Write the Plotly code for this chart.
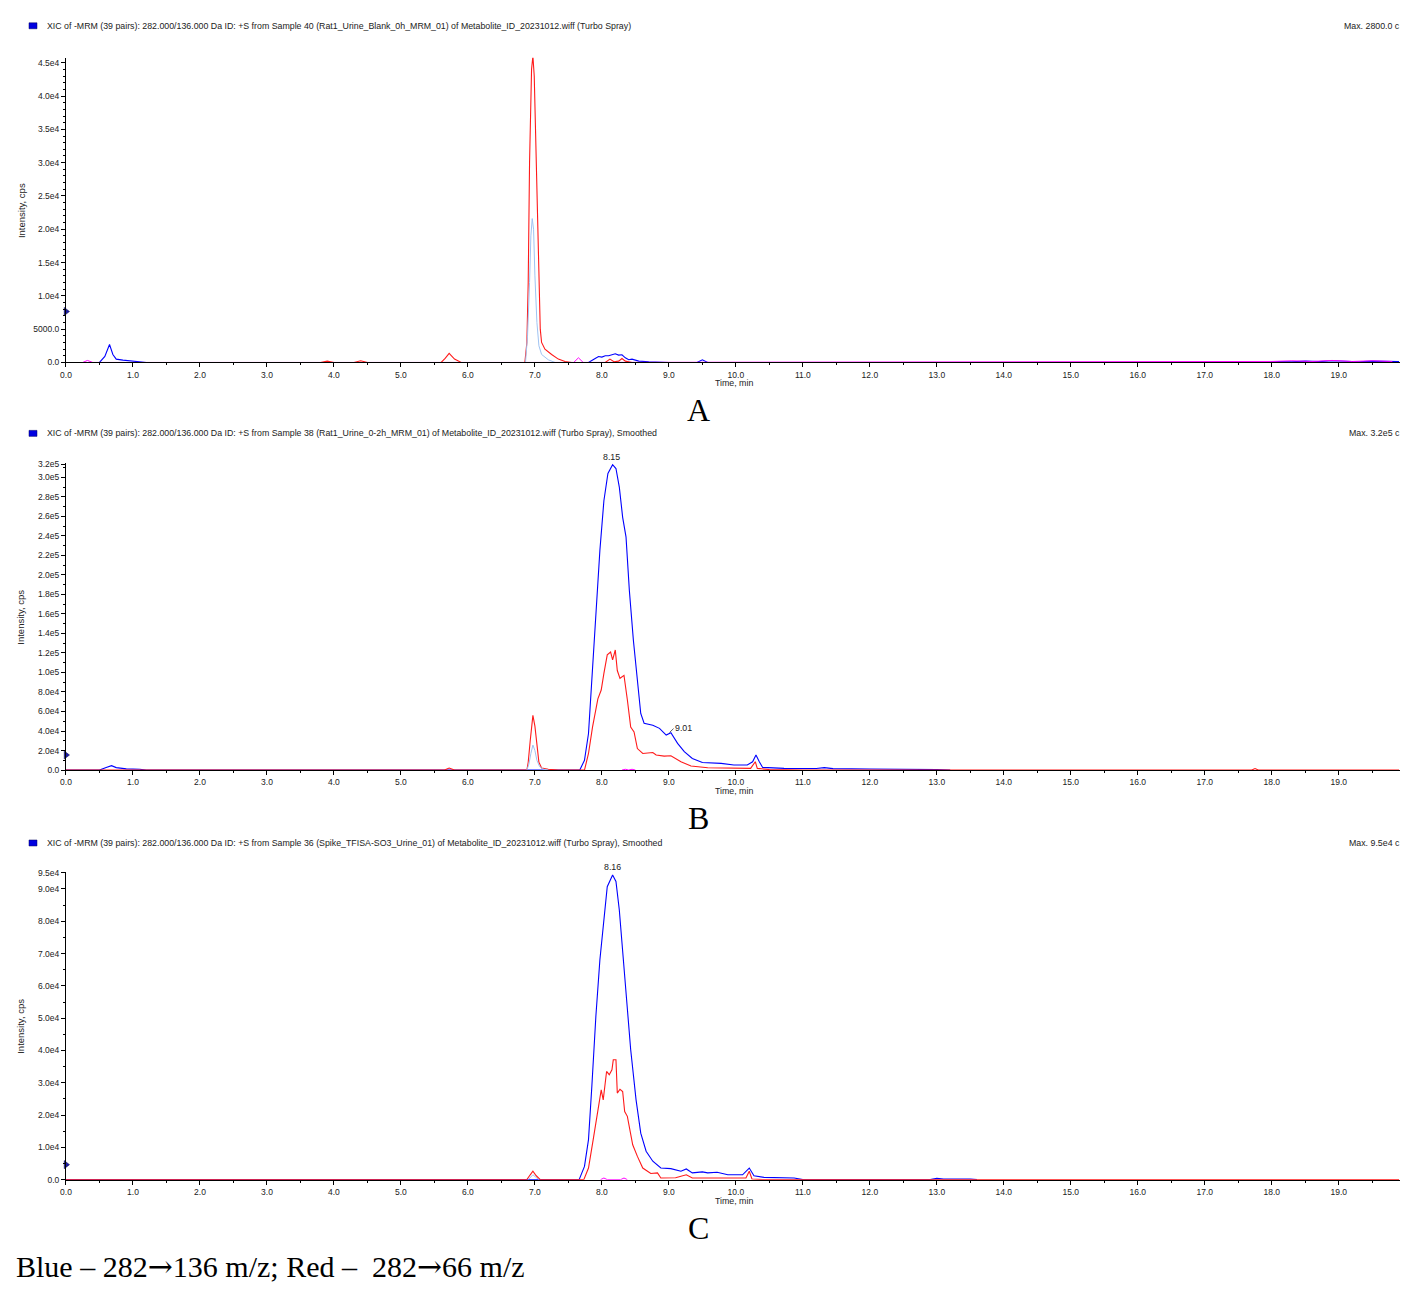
import plotly.graph_objects as go

W, H = 1428, 1290

# ---------------- Panel A data ----------------
a_blue_t = [0.0, 0.30, 0.50, 0.58, 0.65, 0.70, 0.75, 0.85, 1.00, 1.10, 1.20, 3.90, 4.00, 7.80, 7.90, 7.95, 8.00,
            8.05, 8.10, 8.15, 8.20, 8.25, 8.30, 8.35, 8.40, 8.45, 8.55, 8.70, 9.00, 9.42, 9.50, 9.58, 9.70,
            17.9, 18.1, 18.3, 18.5, 18.7, 18.9, 19.1, 19.3, 19.5, 19.7, 19.9]
a_blue_i = [0, 0, 0, 900, 2700, 1200, 500, 350, 200, 100, 0, 0, 0, 0, 600, 900, 800,
            1000, 1000, 1100, 1300, 1100, 1150, 700, 400, 500, 200, 100, 0, 0, 400, 0, 0,
            0, 150, 100, 200, 120, 250, 150, 100, 200, 120, 150]
a_red_t = [0.0, 3.80, 3.90, 4.00, 4.30, 4.40, 4.50, 5.60, 5.66, 5.72, 5.80, 5.90, 6.85, 6.88, 6.90, 6.92, 6.95,
           6.97, 6.99, 7.02, 7.05, 7.08, 7.10, 7.15, 7.25, 7.35, 7.45, 7.55, 8.05, 8.12, 8.18, 8.25, 8.30,
           8.35, 8.45, 19.9]
a_red_i = [0, 0, 200, 0, 0, 250, 0, 0, 600, 1350, 500, 0, 0, 3000, 12000, 30000, 44000,
           46000, 43000, 30000, 15000, 5000, 3000, 2000, 1200, 500, 150, 0, 0, 500, 100, 200, 600,
           200, 0, 0]
a_lblue_t = [6.86, 6.89, 6.92, 6.94, 6.96, 6.98, 7.00, 7.03, 7.06, 7.10, 7.20, 7.30]
a_lblue_i = [0, 4000, 12000, 19000, 21600, 20000, 13000, 6000, 2500, 1200, 400, 0]
a_mag_t = [0.25, 0.32, 0.40, 7.58, 7.65, 7.72, 18.0, 18.3, 18.6, 18.9, 19.2, 19.5, 19.8]
a_mag_i = [0, 300, 0, 0, 700, 0, 150, 250, 150, 300, 150, 250, 150]

# ---------------- Panel B data ----------------
b_blue_t = [0.0, 0.50, 0.60, 0.68, 0.75, 0.90, 1.10, 1.20, 7.67, 7.74, 7.80, 7.85, 7.91, 7.97, 8.03, 8.09,
            8.16, 8.21, 8.26, 8.31, 8.36, 8.41, 8.47, 8.53, 8.58, 8.63, 8.76, 8.86, 8.96, 9.03, 9.13,
            9.23, 9.35, 9.50, 9.78, 9.97, 10.17, 10.25, 10.30, 10.35, 10.40, 10.72, 11.20, 11.32, 11.45,
            12.0, 12.8, 13.0, 13.2]
b_blue_i = [0, 0, 2500, 4500, 2500, 1200, 800, 0, 0, 10000, 37500, 92000, 160000, 225000, 276000, 304000,
            313000, 309000, 290000, 259000, 239000, 184000, 133000, 89000, 58000, 48000, 46000, 42700,
            35800, 38200, 27300, 18800, 11900, 7800, 6800, 5100, 5100, 8500, 15400, 8500, 2700, 1700,
            1600, 2500, 1500, 1000, 900, 500, 0]
b_red_t = [0.0, 5.65, 5.72, 5.80, 6.88, 6.90, 6.93, 6.97, 7.00, 7.03, 7.06, 7.10, 7.20, 7.35, 7.74, 7.80,
           7.86, 7.94, 7.99, 8.03, 8.08, 8.13, 8.16, 8.20, 8.23, 8.27, 8.33, 8.38, 8.43, 8.48, 8.53,
           8.61, 8.76, 8.81, 8.93, 9.03, 9.18, 9.33, 9.58, 10.22, 10.29, 10.32, 10.50, 11.0, 17.70,
           17.75, 17.80, 19.9]
b_red_i = [0, 0, 2000, 0, 0, 8000, 30000, 56000, 45000, 25000, 8000, 2000, 800, 0, 0, 17000,
           44000, 73000, 82000, 99000, 118000, 121000, 113000, 123000, 102000, 94000, 97000, 72000,
           44000, 39000, 22000, 17000, 18000, 15400, 14300, 14700, 8500, 4100, 2400, 1700, 8500,
           1700, 500, 0, 0, 1500, 0, 0]
b_lblue_t = [6.88, 6.91, 6.94, 6.97, 7.00, 7.03, 7.07, 7.12, 7.20]
b_lblue_i = [0, 6000, 17000, 25600, 20000, 10000, 3500, 1000, 0]
b_mag_t = [8.30, 8.35, 8.40, 8.45, 8.50]
b_mag_i = [0, 800, 0, 800, 0]

# ---------------- Panel C data ----------------
c_blue_t = [0.0, 7.66, 7.74, 7.80, 7.85, 7.91, 7.97, 8.03, 8.08, 8.16, 8.21, 8.26, 8.31, 8.36, 8.43,
            8.51, 8.58, 8.66, 8.76, 8.88, 9.03, 9.18, 9.26, 9.35, 9.50, 9.58, 9.72, 9.88, 10.10,
            10.20, 10.27, 10.42, 10.87, 11.0, 12.9, 13.0, 13.1, 13.5, 13.6]
c_blue_i = [0, 0, 4100, 12400, 28900, 50500, 68000, 81400, 90700, 94300, 92300, 83500, 71100,
            58800, 40200, 24700, 14400, 8800, 5700, 3600, 3400, 2600, 3300, 2100, 2400, 2100, 2300,
            1500, 1500, 3600, 1200, 700, 500, 0, 0, 400, 200, 200, 0]
c_red_t = [0.0, 6.88, 6.93, 6.97, 7.02, 7.08, 7.73, 7.80, 7.87, 7.94, 7.99, 8.02, 8.07, 8.11, 8.15,
           8.17, 8.21, 8.23, 8.27, 8.31, 8.34, 8.38, 8.46, 8.53, 8.61, 8.73, 8.83, 8.88, 9.10,
           9.26, 9.35, 10.15, 10.20, 10.24, 10.40, 19.9]
c_red_i = [0, 0, 1500, 2600, 1200, 0, 0, 3600, 12400, 21700, 27800, 24700, 33500, 32500, 34000,
           37100, 37100, 26800, 28000, 27300, 21100, 19600, 10800, 7200, 3600, 1900, 2100, 500,
           600, 1500, 500, 500, 2600, 200, 0, 0]
c_lblue_t = [6.90, 6.94, 6.97, 7.01, 7.06]
c_lblue_i = [0, 900, 1500, 800, 0]
c_mag_t = [7.98, 8.03, 8.08, 8.28, 8.33, 8.38]
c_mag_i = [0, 500, 0, 0, 500, 0]

# threshold markers on y axes
mark_vals = [7650, 15400, 4650]

# tick labels
a_tickvals = [0, 5000, 10000, 15000, 20000, 25000, 30000, 35000, 40000, 45000]
a_ticktext = ["0.0", "5000.0", "1.0e4", "1.5e4", "2.0e4", "2.5e4", "3.0e4", "3.5e4", "4.0e4", "4.5e4"]
b_tickvals = [0, 20000, 40000, 60000, 80000, 100000, 120000, 140000, 160000, 180000, 200000,
              220000, 240000, 260000, 280000, 300000, 313500]
b_ticktext = ["0.0", "2.0e4", "4.0e4", "6.0e4", "8.0e4", "1.0e5", "1.2e5", "1.4e5", "1.6e5", "1.8e5",
              "2.0e5", "2.2e5", "2.4e5", "2.6e5", "2.8e5", "3.0e5", "3.2e5"]
c_tickvals = [0, 10000, 20000, 30000, 40000, 50000, 60000, 70000, 80000, 90000, 95000]
c_ticktext = ["0.0", "1.0e4", "2.0e4", "3.0e4", "4.0e4", "5.0e4", "6.0e4", "7.0e4", "8.0e4", "9.0e4", "9.5e4"]

headers = [
    "XIC of -MRM (39 pairs): 282.000/136.000 Da ID: +S from Sample 40 (Rat1_Urine_Blank_0h_MRM_01) of Metabolite_ID_20231012.wiff (Turbo Spray)",
    "XIC of -MRM (39 pairs): 282.000/136.000 Da ID: +S from Sample 38 (Rat1_Urine_0-2h_MRM_01) of Metabolite_ID_20231012.wiff (Turbo Spray), Smoothed",
    "XIC of -MRM (39 pairs): 282.000/136.000 Da ID: +S from Sample 36 (Spike_TFISA-SO3_Urine_01) of Metabolite_ID_20231012.wiff (Turbo Spray), Smoothed",
]
max_texts = ["Max. 2800.0 c", "Max. 3.2e5 c", "Max. 9.5e4 c"]
panel_letters = ["A", "B", "C"]
ARROW = "<span style='font-family:DejaVu Serif'>\u2192</span>"
caption = "Blue \u2013 282" + ARROW + "136 m/z; Red \u2013  282" + ARROW + "66 m/z"

# ---------------- layout geometry (target pixels) ----------------
x_left, x_right = 65, 1399
panels_px = [(57, 362), (463, 770), (872, 1180)]  # top, bottom of plot area
header_y = [25, 433, 843]
letter_y = [410, 818, 1228]
y_ranges = [[0, 45750], [0, 314300], [0, 95270]]
y_minor = [1000, 10000, 5000]

# small empirical correction of the page rendering
XA, XB = 5.0, 0.996
YA, YB = 3.2, 0.994


def px(x):
    return ((x - XA) / XB) / W


def py(y):
    return 1 - ((y - YA) / YB) / H


BLUE = "#0000ff"
RED = "#ff1a1a"
LBLUE = "#9fc3f2"
MAG = "#ff00ff"

fig = go.Figure()

series = [
    (a_lblue_t, a_lblue_i, a_mag_t, a_mag_i, a_red_t, a_red_i, a_blue_t, a_blue_i),
    (b_lblue_t, b_lblue_i, b_mag_t, b_mag_i, b_red_t, b_red_i, b_blue_t, b_blue_i),
    (c_lblue_t, c_lblue_i, c_mag_t, c_mag_i, c_red_t, c_red_i, c_blue_t, c_blue_i),
]

tick_sets = [(a_tickvals, a_ticktext), (b_tickvals, b_ticktext), (c_tickvals, c_ticktext)]
tickfont = dict(family="Liberation Sans, Arial", size=8.5, color="#222222")

for k in range(3):
    xa = "x" if k == 0 else f"x{k+1}"
    ya = "y" if k == 0 else f"y{k+1}"
    lt, li, mt, mi, rt, ri, bt, bi = series[k]
    fig.add_trace(go.Scatter(x=bt, y=bi, mode="lines", line=dict(color=BLUE, width=1.1),
                             xaxis=xa, yaxis=ya, showlegend=False, hoverinfo="skip"))
    fig.add_trace(go.Scatter(x=mt, y=mi, mode="lines", line=dict(color=MAG, width=1),
                             xaxis=xa, yaxis=ya, showlegend=False, hoverinfo="skip"))
    fig.add_trace(go.Scatter(x=rt, y=ri, mode="lines", line=dict(color=RED, width=1.1),
                             xaxis=xa, yaxis=ya, showlegend=False, hoverinfo="skip"))
    fig.add_trace(go.Scatter(x=lt, y=li, mode="lines", line=dict(color=LBLUE, width=1),
                             xaxis=xa, yaxis=ya, showlegend=False, hoverinfo="skip"))
    fig.add_trace(go.Scatter(x=[0], y=[mark_vals[k]], mode="markers",
                             marker=dict(symbol="triangle-right", size=7, color="#1c1ca8",
                                         line=dict(color="#000040", width=0.5)),
                             cliponaxis=False, xaxis=xa, yaxis=ya, showlegend=False, hoverinfo="skip"))

    top, bot = panels_px[k]
    xkey = "xaxis" if k == 0 else f"xaxis{k+1}"
    ykey = "yaxis" if k == 0 else f"yaxis{k+1}"
    tv, tt = tick_sets[k]
    fig.update_layout(**{
        xkey: dict(domain=[px(x_left), px(x_right)], range=[0, 19.91], anchor=ya,
                   showline=True, linecolor="black", linewidth=1, showgrid=False, zeroline=False,
                   ticks="outside", ticklen=4, tickcolor="black", tickwidth=1,
                   dtick=1, tick0=0, tickformat=".1f", tickfont=tickfont,
                   minor=dict(ticks="outside", ticklen=2, dtick=0.5, tick0=0, tickcolor="black")),
        ykey: dict(domain=[py(bot), py(top)], range=y_ranges[k], anchor=xa,
                   showline=True, linecolor="black", linewidth=1, showgrid=False, zeroline=False,
                   ticks="outside", ticklen=4, tickcolor="black", tickwidth=1,
                   tickmode="array", tickvals=tv, ticktext=tt, tickfont=tickfont,
                   minor=dict(ticks="outside", ticklen=2, dtick=y_minor[k], tick0=0, tickcolor="black")),
    })

annotations = []
shapes = []
small = dict(family="Liberation Sans, Arial", size=8.8, color="#222222")
for k in range(3):
    top, bot = panels_px[k]
    shapes.append(dict(type="rect", xref="paper", yref="paper",
                       x0=px(28), x1=px(36), y0=py(header_y[k] + 3), y1=py(header_y[k] - 3),
                       fillcolor="#0000e0", line=dict(color="#000060", width=0.5)))
    annotations.append(dict(xref="paper", yref="paper", x=px(44), y=py(header_y[k]), text=headers[k],
                            showarrow=False, xanchor="left", yanchor="middle", font=small))
    annotations.append(dict(xref="paper", yref="paper", x=px(1401), y=py(header_y[k]), text=max_texts[k],
                            showarrow=False, xanchor="right", yanchor="middle", font=small))
    annotations.append(dict(xref="paper", yref="paper", x=px(20), y=py((top + bot) / 2), text="Intensity, cps",
                            showarrow=False, textangle=-90, xanchor="center", yanchor="middle",
                            font=dict(family="Liberation Sans, Arial", size=9.5, color="#222222")))
    annotations.append(dict(xref="paper", yref="paper", x=px(733), y=py(bot + 21), text="Time, min",
                            showarrow=False, xanchor="center", yanchor="middle", font=small))
    annotations.append(dict(xref="paper", yref="paper", x=px(698), y=py(letter_y[k]), text=panel_letters[k],
                            showarrow=False, xanchor="center", yanchor="middle",
                            font=dict(family="Liberation Serif, Times New Roman", size=32, color="black")))

# peak labels
annotations.append(dict(xref="x2", yref="y2", x=8.15, y=313000, text="8.15", showarrow=False,
                        yanchor="bottom", yshift=1, font=small))
annotations.append(dict(xref="x2", yref="y2", x=9.06, y=43500, text="9.01", showarrow=False,
                        xanchor="left", yanchor="middle", font=small))
shapes.append(dict(type="line", xref="x2", yref="y2", x0=9.01, y0=38500, x1=9.07, y1=42500,
                   line=dict(color="#333333", width=0.8)))
annotations.append(dict(xref="x3", yref="y3", x=8.16, y=94300, text="8.16", showarrow=False,
                        yanchor="bottom", yshift=1, font=small))

annotations.append(dict(xref="paper", yref="paper", x=px(13), y=py(1267), text=caption, showarrow=False,
                        xanchor="left", yanchor="middle",
                        font=dict(family="Liberation Serif, Times New Roman", size=30, color="black")))

fig.update_layout(width=W, height=H, margin=dict(l=0, r=0, t=0, b=0),
                  paper_bgcolor="white", plot_bgcolor="white",
                  annotations=annotations, shapes=shapes)

fig.write_html("out.html", config={"displayModeBar": False},
               post_script="document.body.style.margin='0';document.body.style.overflow='hidden';")
